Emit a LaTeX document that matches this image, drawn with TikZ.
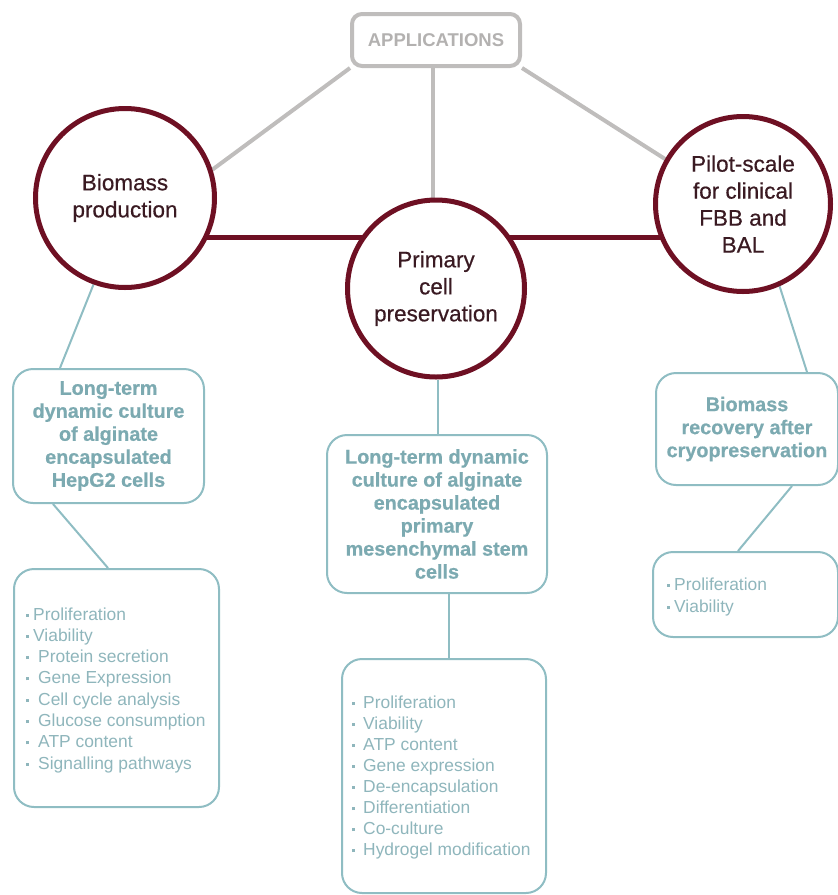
\documentclass[tikz,border=0pt]{standalone}
\usepackage{fontspec}
\setmainfont{Liberation Sans}
\newfontfamily\heavyfont[BoldFeatures={FakeBold=0.6}]{Liberation Sans}
\newfontfamily\medfont[FakeBold=0.5]{Liberation Sans}
\usetikzlibrary{backgrounds}
\definecolor{maroon}{HTML}{6E1023}
\definecolor{circtext}{HTML}{3A1A22}
\definecolor{grayline}{HTML}{BFBDBC}
\definecolor{graytext}{HTML}{B3B1B0}
\definecolor{tealline}{HTML}{8FBDC3}
\definecolor{tealtext}{HTML}{7CAAB1}
\definecolor{itemtext}{HTML}{8FB6BC}
\newcommand{\bul}{\raisebox{3.5pt}{\rule{3pt}{3pt}}}
\begin{document}
\begin{tikzpicture}[x=1pt,y=-1pt,
  appbox/.style={draw=grayline, line width=4pt, rounded corners=10pt, fill=white,
    minimum width=168pt, minimum height=52pt, inner sep=0pt,
    font=\fontsize{18.5}{20}\selectfont\bfseries, text=graytext},
  grayconn/.style={draw=grayline, line width=4pt},
  redconn/.style={draw=maroon, line width=5pt},
  circ/.style={circle, draw=maroon, line width=5pt, fill=white, inner sep=0pt,
    minimum size=#1, align=center, font=\medfont\fontsize{22.5}{27}\selectfont, text=circtext},
  tbox/.style={draw=tealline, line width=2pt, rounded corners=20pt, fill=white,
    inner sep=0pt, align=center, font=\heavyfont\fontsize{19.8}{23}\selectfont\bfseries, text=tealtext},
  tealconn/.style={draw=tealline, line width=2pt},
  item/.style={anchor=base west, inner sep=0pt, font=\fontsize{17.4}{20}\selectfont, text=itemtext}
]
\useasboundingbox (0,0) rectangle (838,895);
\clip (0,0) rectangle (838,895);

% top box
\node[appbox] (apps) at (436,40) {APPLICATIONS};

% circles
\node[circ=179pt] (bio) at (125,198) {Biomass\\production};
\node[circ=177pt] (prim) at (436,288.5) {Primary\\cell\\preservation};
\node[circ=175pt] (pilot) at (743,204) {Pilot-scale\\for clinical\\FBB and\\BAL};

% boxes
\node[tbox, minimum width=191pt, minimum height=134pt] (boxA) at (108.5,436)
  {Long-term\\dynamic culture\\of alginate\\encapsulated\\HepG2 cells};
\node[tbox, minimum width=205pt, minimum height=238pt] (boxB) at (116.5,688) {};
\node[tbox, minimum width=220pt, minimum height=158pt] (boxC) at (437,514)
  {Long-term dynamic\\culture of alginate\\encapsulated\\primary\\mesenchymal stem\\cells};
\node[tbox, minimum width=204pt, minimum height=234pt] (boxD) at (444,776) {};
\node[tbox, minimum width=182pt, minimum height=112pt] (boxE) at (747,429)
  {Biomass\\recovery after\\cryopreservation};
\node[tbox, minimum width=185pt, minimum height=85pt] (boxF) at (745.5,594.5) {};

% items box B
\node[item] (b1) at (26,620) {\bul\hspace{4pt}Proliferation};
\node[item] (b2) at (26,641.3) {\bul\hspace{4pt}Viability};
\node[item] (b3) at (26,662.6) {\bul\hspace{9pt}Protein secretion};
\node[item] (b4) at (26,683.9) {\bul\hspace{9pt}Gene Expression};
\node[item] (b5) at (26,705.2) {\bul\hspace{9pt}Cell cycle analysis};
\node[item] (b6) at (26,726.5) {\bul\hspace{9pt}Glucose consumption};
\node[item] (b7) at (26,747.8) {\bul\hspace{9pt}ATP content};
\node[item] (b8) at (26,769.1) {\bul\hspace{9pt}Signalling pathways};

% items box D
\node[item] (d1) at (352,708) {\bul\hspace{8pt}Proliferation};
\node[item] (d2) at (352,729.1) {\bul\hspace{8pt}Viability};
\node[item] (d3) at (352,750.2) {\bul\hspace{8pt}ATP content};
\node[item] (d4) at (352,771.3) {\bul\hspace{8pt}Gene expression};
\node[item] (d5) at (352,792.4) {\bul\hspace{8pt}De-encapsulation};
\node[item] (d6) at (352,813.5) {\bul\hspace{8pt}Differentiation};
\node[item] (d7) at (352,834.6) {\bul\hspace{8pt}Co-culture};
\node[item] (d8) at (352,855.7) {\bul\hspace{8pt}Hydrogel modification};

% items box F
\node[item] (f1) at (667,590) {\bul\hspace{4pt}Proliferation};
\node[item] (f2) at (667,612) {\bul\hspace{4pt}Viability};

\begin{pgfonlayer}{background}
  \draw[grayconn] (apps.south west) -- (bio.18);
  \draw[grayconn] ([xshift=-3pt]apps.south) -- ([xshift=-3pt]prim.north);
  \draw[grayconn] (apps.south east) -- (pilot.150);
  \draw[redconn] ([yshift=-39pt]bio.center) -- ([yshift=-33pt]pilot.center);
  \draw[tealconn] (bio.250) -- ([xshift=-48.5pt]boxA.north);
  \draw[tealconn] ([xshift=-55.5pt]boxA.south) -- ([xshift=-8.5pt]boxB.north);
  \draw[tealconn] ([xshift=2pt]prim.south) -- ([xshift=1pt]boxC.north);
  \draw[tealconn] ([xshift=12pt]boxC.south) -- ([xshift=5pt]boxD.north);
  \draw[tealconn] (pilot.-66) -- ([xshift=60pt]boxE.north);
  \draw[tealconn] ([xshift=45pt]boxE.south) -- ([xshift=-7.5pt]boxF.north);
\end{pgfonlayer}
\end{tikzpicture}
\end{document}
